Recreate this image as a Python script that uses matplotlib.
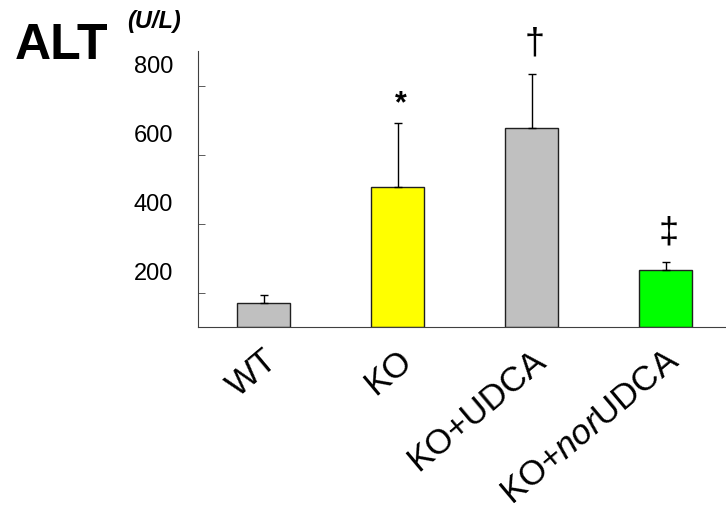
import matplotlib.pyplot as plt
from matplotlib.transforms import ScaledTranslation

plt.rcParams['font.family'] = ['Liberation Sans', 'DejaVu Sans']
plt.rcParams['mathtext.fontset'] = 'custom'
plt.rcParams['mathtext.it'] = 'Liberation Sans:italic'
plt.rcParams['mathtext.rm'] = 'Liberation Sans'

groups = ["WT", "KO", "KO+UDCA", "KO+$\\it{nor}$UDCA"]
alt_mean = [70, 405, 577, 165]
alt_err = [23, 186, 157, 22]
bar_colors = ["#c0c0c0", "#ffff00", "#c0c0c0", "#00ff00"]
marks = ["", "*", "\u2020", "\u2021"]
y_labels = [200, 400, 600, 800]
y_minor = [100, 300, 500, 700]

fig = plt.figure(figsize=(7.26, 5.17), dpi=100)
ax = fig.add_axes([0.2727, 0.3675, 0.7273, 0.5338])

x = list(range(len(groups)))
ax.bar(x, alt_mean, width=0.4, color=bar_colors, edgecolor="#202020", linewidth=1)
ax.errorbar(x, alt_mean, yerr=[[0] * len(x), alt_err], fmt="none",
            ecolor="black", elinewidth=1, capsize=3, capthick=1)

# significance marks above error bars
for xi, m, e, sym in zip(x, alt_mean, alt_err, marks):
    if not sym:
        continue
    if sym == "*":
        ax.text(xi + 0.02, m + e + 12, sym, ha="center", va="bottom",
                fontsize=22, fontweight="bold")
    else:
        ax.text(xi + 0.02, m + e + 35, sym, ha="center", va="bottom",
                fontsize=26)

ax.set_xlim(-0.49, 3.45)
ax.set_ylim(0, 800)

ax.spines["top"].set_visible(False)
ax.spines["right"].set_visible(False)
ax.spines["left"].set_color("#404040")
ax.spines["bottom"].set_color("#404040")

ax.set_yticks(y_labels)
ax.set_yticks(y_minor, minor=True)
ax.tick_params(axis="y", which="major", length=0, pad=18, labelsize=17)
ax.tick_params(axis="y", which="minor", length=5, direction="in", color="#404040")
offset = ScaledTranslation(0, -10 / 72, fig.dpi_scale_trans)
for lab in ax.get_yticklabels():
    lab.set_transform(lab.get_transform() + offset)

ax.set_xticks(x)
ax.set_xticklabels(groups, rotation=40, ha="right", va="center",
                   rotation_mode="anchor", fontsize=25)
ax.tick_params(axis="x", length=0, pad=21)
xoff = ScaledTranslation(7 / 72, 0, fig.dpi_scale_trans)
for lab in ax.get_xticklabels():
    lab.set_transform(lab.get_transform() + xoff)

fig.text(0.02, 0.955, "ALT", fontsize=36, fontweight="bold", va="top")
fig.text(0.175, 0.98, "(U/L)", fontsize=17, fontweight="bold",
         fontstyle="italic", va="top")

fig.savefig("out.png", dpi=100)
